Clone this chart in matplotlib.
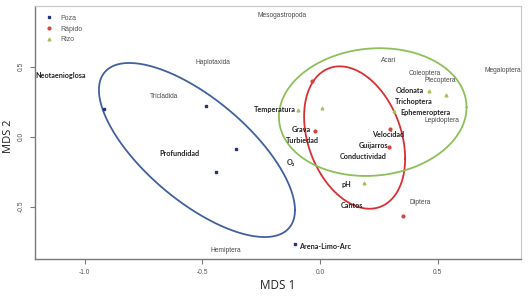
import numpy as np
import matplotlib
matplotlib.use("Agg")
import matplotlib.pyplot as plt
from matplotlib.lines import Line2D

# site scores (MDS 1, MDS 2) by habitat
poza_x = [-0.919, -0.486, -0.358, -0.441, -0.108]
poza_y = [0.196, 0.221, -0.088, -0.250, -0.764]
rapido_x = [-0.035, -0.020, 0.298, 0.294, 0.353]
rapido_y = [0.400, 0.041, 0.053, -0.077, -0.564]
rizo_x = [-0.095, 0.009, 0.316, 0.462, 0.536, 0.187]
rizo_y = [0.191, 0.207, 0.184, 0.329, 0.298, -0.333]

# group ellipses: centre and covariance-like shape matrix
ell_center = [(-0.523, -0.095), (0.147, -0.006), (0.224, 0.176)]
ell_cov = [[[0.1735, -0.1787], [-0.1787, 0.3866]],
           [[0.0461, -0.0322], [-0.0322, 0.2587]],
           [[0.1589, 0.0136], [0.0136, 0.2082]]]

# taxa (light labels)
taxa = ['Mesogastropoda', 'Haplotaxida', 'Tricladida', 'Hemiptera', 'Acari',
        'Coleoptera', 'Plecoptera', 'Megaloptera', 'Lepidoptera', 'Diptera']
taxa_x = [-0.161, -0.453, -0.663, -0.401, 0.290, 0.446, 0.510, 0.778, 0.517, 0.425]
taxa_y = [0.869, 0.531, 0.286, -0.811, 0.548, 0.448, 0.398, 0.474, 0.119, -0.471]

# environmental variables and dark taxa (bold labels)
env = ['Neotaenioglosa', 'Odonata', 'Trichoptera', 'Ephemeroptera', 'Temperatura',
       'Grava', 'Turbiedad', 'O₂', 'Velocidad', 'Guijarros', 'Conductividad',
       'pH', 'Cantos', 'Profundidad', 'Arena-Limo-Arc']
env_x = [-1.101, 0.382, 0.400, 0.446, -0.194, -0.081, -0.074, -0.125, 0.288,
         0.227, 0.184, 0.113, 0.135, -0.599, 0.021]
env_y = [0.439, 0.329, 0.253, 0.176, 0.191, 0.053, -0.024, -0.181, 0.017,
         -0.064, -0.143, -0.338, -0.493, -0.119, -0.781]

groups = ['Poza', 'Rápido', 'Rizo']
pt_colors = ['#27337a', '#d2473f', '#a9c25a']
ell_colors = ['#41609f', '#d93035', '#8dbf5a']
markers = ['s', 'o', '^']

fig = plt.figure(figsize=(5.28, 3.01), dpi=100)
ax = fig.add_axes([0.0663, 0.1395, 0.9205, 0.8405])

# ellipses
t = np.linspace(0, 2 * np.pi, 300)
circ = np.vstack([np.cos(t), np.sin(t)])
for c, cov, col in zip(ell_center, ell_cov, ell_colors):
    L = np.linalg.cholesky(np.array(cov))
    pts = L @ circ
    ax.plot(c[0] + pts[0], c[1] + pts[1], color=col, lw=1.3)

# points
for xs, ys, col, m in zip([poza_x, rapido_x, rizo_x], [poza_y, rapido_y, rizo_y],
                          pt_colors, markers):
    ax.plot(xs, ys, linestyle='none', marker=m, ms=2.0, color=col, mec=col)

for name, x, y in zip(taxa, taxa_x, taxa_y):
    ax.text(x, y, name, ha='center', va='center', fontsize=4.8,
            family='Liberation Sans', color='#4a4a4a')
for name, x, y in zip(env, env_x, env_y):
    ax.text(x, y, name, ha='center', va='center', fontsize=5.2,
            family=['Lato', 'DejaVu Sans'], weight='bold', color='#222222')

ax.set_xlim(-1.2112, 0.8542)
ax.set_ylim(-0.8736, 0.9336)
ax.set_xticks([-1.0, -0.5, 0.0, 0.5])
ax.set_yticks([-0.5, 0.0, 0.5])
ax.set_xticklabels(['-1.0', '-0.5', '0.0', '0.5'], fontsize=4.8, color='#555555',
                   family='Liberation Sans')
ax.set_yticklabels(['-0.5', '0.0', '0.5'], fontsize=4.8, color='#555555',
                   family='Liberation Sans', rotation=90, va='center')
ax.tick_params(axis='both', length=3.5, width=0.8, color='#7a7a7a', pad=4)
for side in ['left', 'bottom']:
    ax.spines[side].set_color('#7a7a7a')
    ax.spines[side].set_linewidth(1.0)
for side in ['top', 'right']:
    ax.spines[side].set_color('#c8c8c8')
    ax.spines[side].set_linewidth(0.8)

fig.text(0.526, 0.053, 'MDS 1', ha='center', va='center', fontsize=8.5,
         family='Open Sans', color='#222222')
fig.text(0.017, 0.548, 'MDS 2', ha='center', va='center', fontsize=8,
         family='Open Sans', color='#222222', rotation=90)

handles = [Line2D([], [], linestyle='none', marker=m, ms=2.0, color=c, mec=c)
           for m, c in zip(markers, pt_colors)]
leg = ax.legend(handles, groups, loc='upper left', bbox_to_anchor=(0.008, 0.99),
                frameon=False, prop={'family': 'Liberation Sans', 'size': 5},
                handlelength=1.0, handletextpad=1.2, labelspacing=0.55)
for txt in leg.get_texts():
    txt.set_color('#555555')

fig.savefig('out.png', dpi=100)
